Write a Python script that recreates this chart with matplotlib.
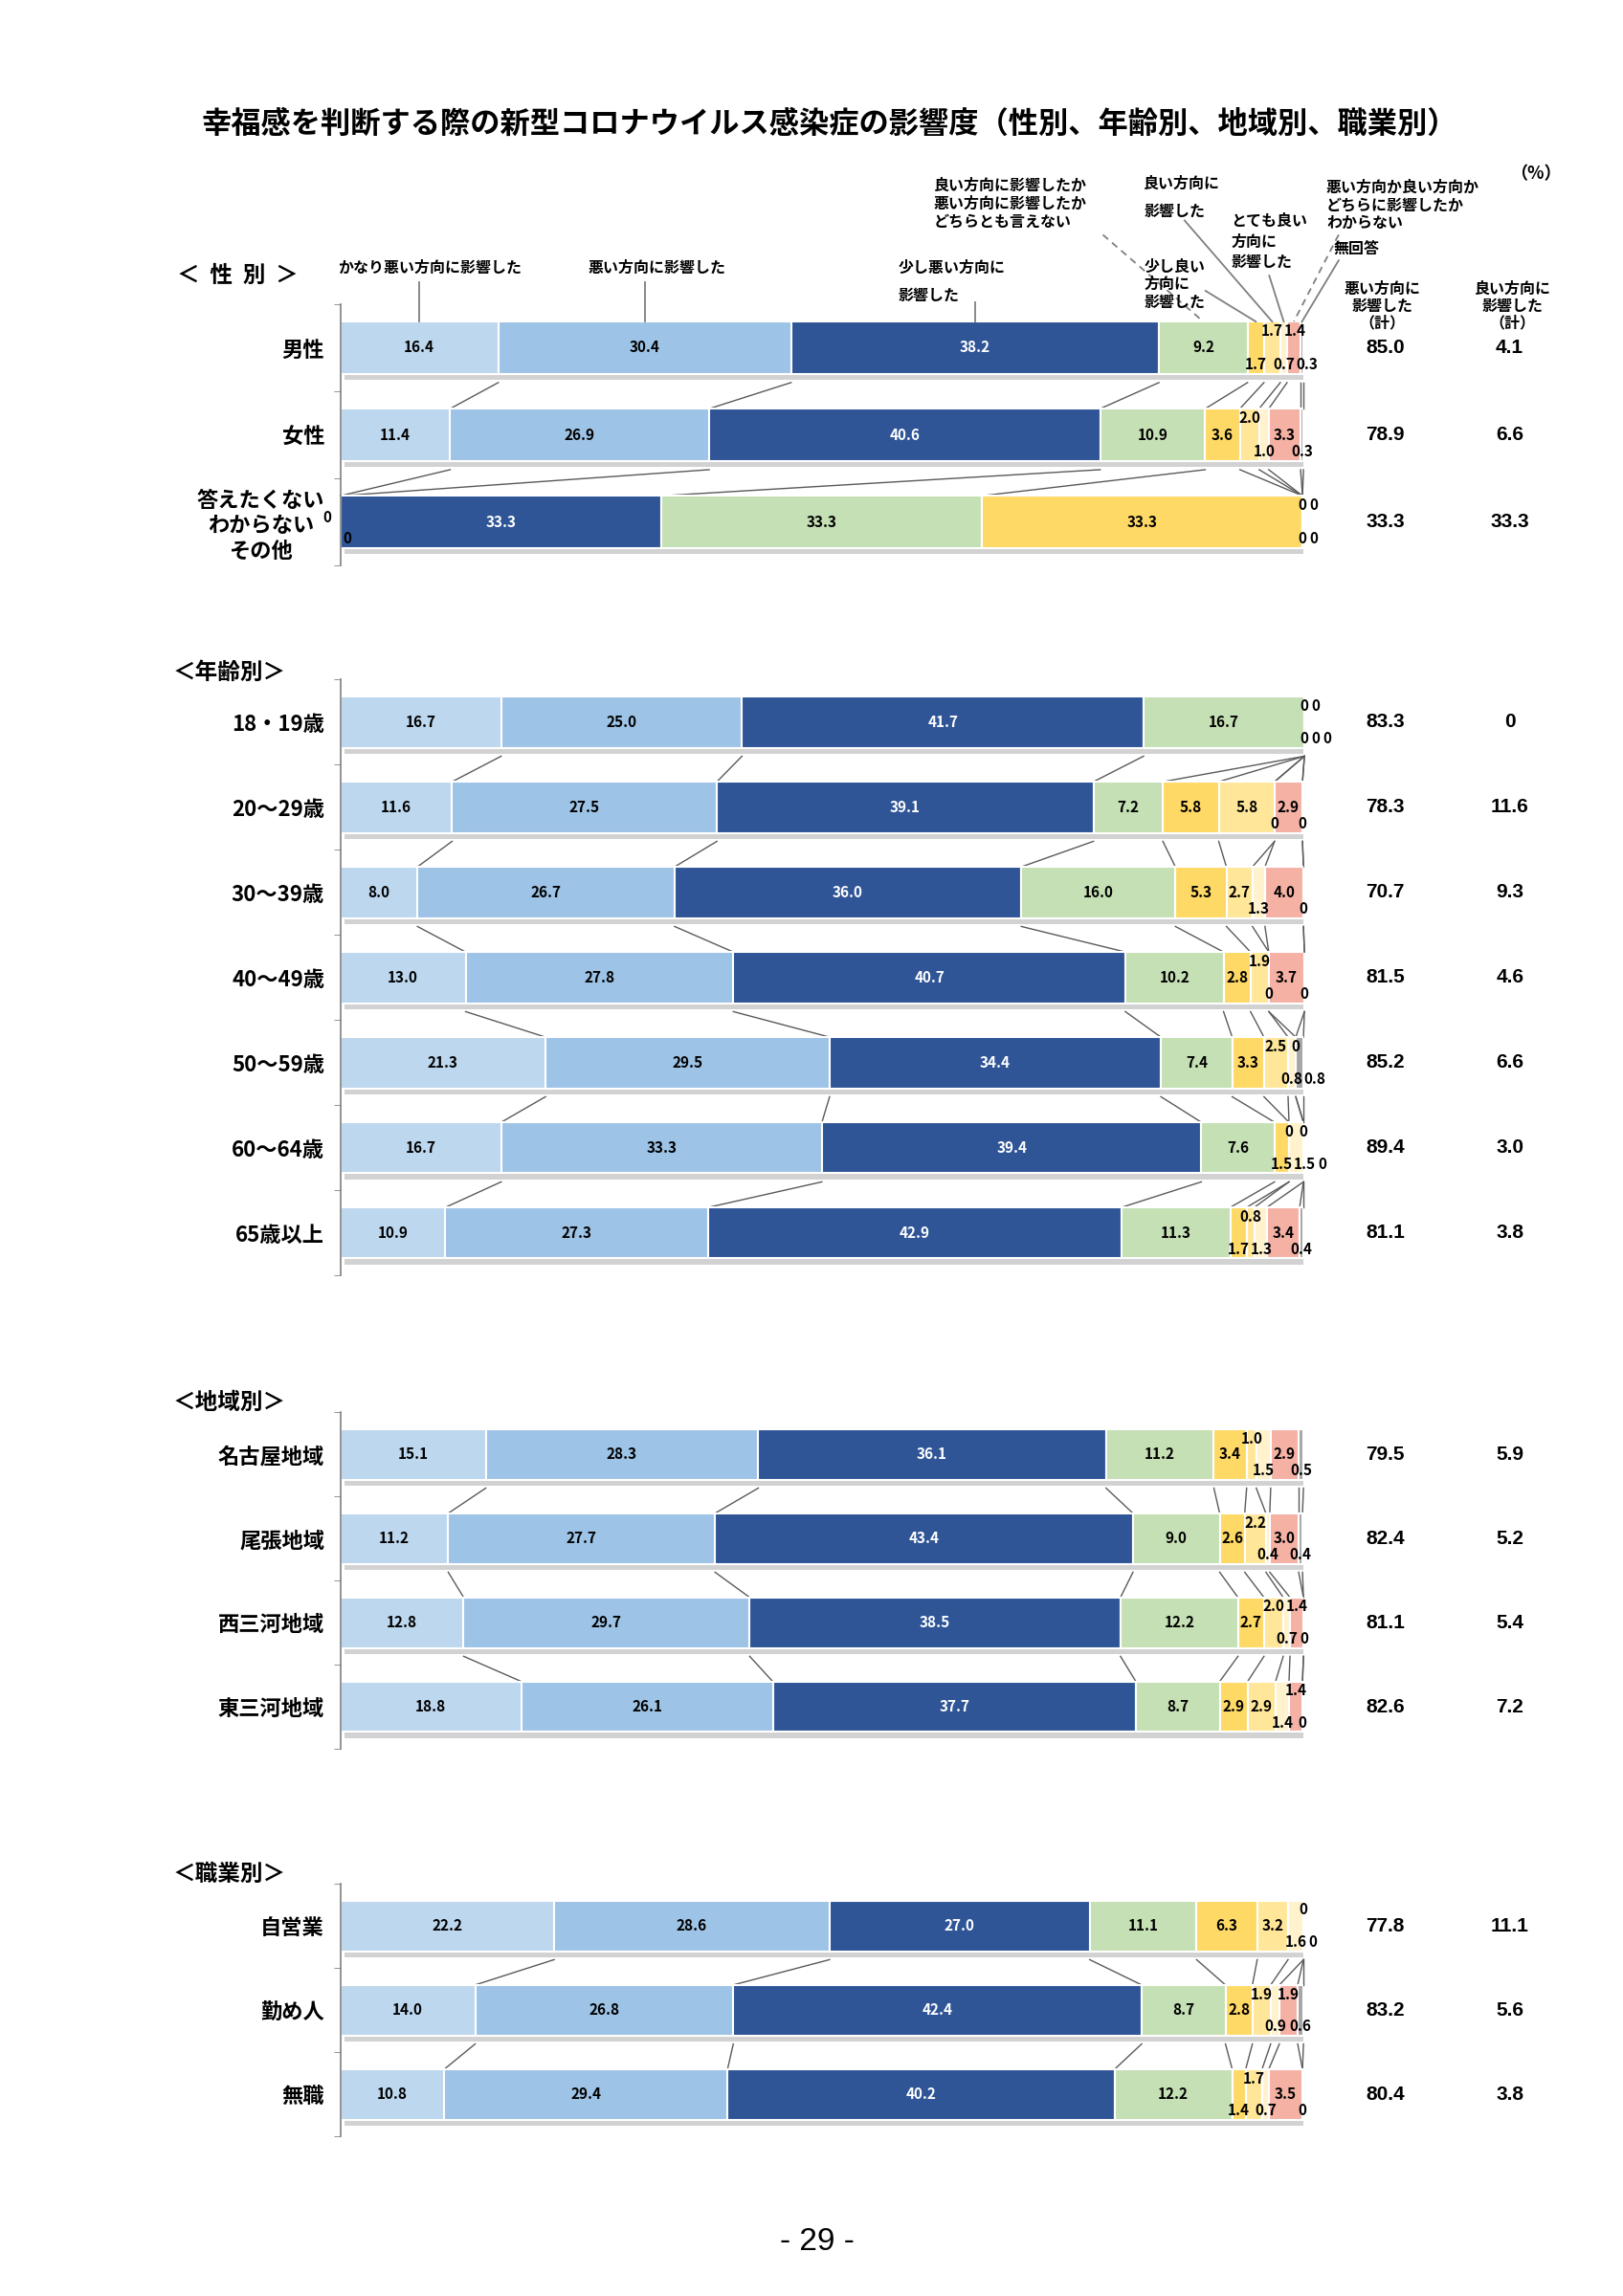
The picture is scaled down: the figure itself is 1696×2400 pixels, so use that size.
import matplotlib
matplotlib.use('Agg')
import matplotlib.pyplot as plt
import numpy as np

CJK = ['Noto Sans CJK JP', 'DejaVu Sans']
NUM = ['Liberation Sans', 'Noto Sans CJK JP', 'DejaVu Sans']
plt.rcParams['font.family'] = CJK

# ---------------- data ----------------
responses = ['かなり悪い方向に影響した', '悪い方向に影響した', '少し悪い方向に影響した',
             '良い方向に影響したか悪い方向に影響したかどちらとも言えない',
             '少し良い方向に影響した', '良い方向に影響した', 'とても良い方向に影響した',
             '悪い方向か良い方向かどちらに影響したかわからない', '無回答']

gender_cats = ['男性', '女性', '答えたくない\nわからない\nその他']
gender_vals = [[16.4, 30.4, 38.2, 9.2, 1.7, 1.7, 0.7, 1.4, 0.3],
               [11.4, 26.9, 40.6, 10.9, 3.6, 2.0, 1.0, 3.3, 0.3],
               [0, 0, 33.3, 33.3, 33.3, 0, 0, 0, 0]]
gender_bad = [85.0, 78.9, 33.3]
gender_good = [4.1, 6.6, 33.3]

age_cats = ['18・19歳', '20～29歳', '30～39歳', '40～49歳', '50～59歳', '60～64歳', '65歳以上']
age_vals = [[16.7, 25.0, 41.7, 16.7, 0, 0, 0, 0, 0],
            [11.6, 27.5, 39.1, 7.2, 5.8, 5.8, 0, 2.9, 0],
            [8.0, 26.7, 36.0, 16.0, 5.3, 2.7, 1.3, 4.0, 0],
            [13.0, 27.8, 40.7, 10.2, 2.8, 1.9, 0, 3.7, 0],
            [21.3, 29.5, 34.4, 7.4, 3.3, 2.5, 0.8, 0, 0.8],
            [16.7, 33.3, 39.4, 7.6, 1.5, 0, 1.5, 0, 0],
            [10.9, 27.3, 42.9, 11.3, 1.7, 0.8, 1.3, 3.4, 0.4]]
age_bad = [83.3, 78.3, 70.7, 81.5, 85.2, 89.4, 81.1]
age_good = [0, 11.6, 9.3, 4.6, 6.6, 3.0, 3.8]

region_cats = ['名古屋地域', '尾張地域', '西三河地域', '東三河地域']
region_vals = [[15.1, 28.3, 36.1, 11.2, 3.4, 1.0, 1.5, 2.9, 0.5],
               [11.2, 27.7, 43.4, 9.0, 2.6, 2.2, 0.4, 3.0, 0.4],
               [12.8, 29.7, 38.5, 12.2, 2.7, 2.0, 0.7, 1.4, 0],
               [18.8, 26.1, 37.7, 8.7, 2.9, 2.9, 1.4, 1.4, 0]]
region_bad = [79.5, 82.4, 81.1, 82.6]
region_good = [5.9, 5.2, 5.4, 7.2]

job_cats = ['自営業', '勤め人', '無職']
job_vals = [[22.2, 28.6, 27.0, 11.1, 6.3, 3.2, 1.6, 0, 0],
            [14.0, 26.8, 42.4, 8.7, 2.8, 1.9, 0.9, 1.9, 0.6],
            [10.8, 29.4, 40.2, 12.2, 1.4, 1.7, 0.7, 3.5, 0]]
job_bad = [77.8, 83.2, 80.4]
job_good = [11.1, 5.6, 3.8]

# ---------------- style ----------------
COLORS = ['#BDD7EE', '#9DC3E6', '#2F5597', '#C5E0B4', '#FFD966',
          '#FFE699', '#FFF2CC', '#F4B1A4', '#A6A6A6']
W, H = 1696, 2400
S = 0.9935
L_PX, R_PX = 358, 1371
BH = 0.6

fig = plt.figure(figsize=(W / 100, H / 100), dpi=100)
fig.patch.set_facecolor('white')


def fx(px):
    return S * px / W


def fy(py):
    return 1 - S * py / H


def fmt(v):
    return '0' if v == 0 else f'{v:.1f}'


def txt_w(t):
    return 0.82 * sum(ch.isdigit() for ch in t) + 0.4 * t.count('.')


def draw_section(title, cats, vals, bad, good, top, bottom, head_y, head_txt_x=182):
    n = len(cats)
    ax = fig.add_axes([fx(L_PX), fy(bottom), fx(R_PX) - fx(L_PX), fy(top) - fy(bottom)])
    ax.set_xlim(0, 100)
    ax.set_ylim(n - 0.5, -0.5)
    arr = np.array(vals, dtype=float)
    cum = np.cumsum(arr, axis=1)
    starts = cum - arr
    ys = np.arange(n)

    # shadow
    ax.barh(ys + 0.07, cum[:, -1], left=0.4, height=BH, color='#D2D2D2', zorder=1)
    for k in range(arr.shape[1]):
        ax.barh(ys, arr[:, k], left=starts[:, k], height=BH, color=COLORS[k],
                edgecolor='white', linewidth=1.5, zorder=2)

    # connectors
    for i in range(n - 1):
        for k in range(arr.shape[1]):
            ax.plot([cum[i, k], cum[i + 1, k]], [i + BH / 2 + 0.1, i + 1 - BH / 2],
                    color='#5A5A5A', lw=1.0, zorder=1.5, clip_on=False)

    # value labels
    for i in range(n):
        lane_end = {-1: -10.0, 1: -10.0}
        for k in range(arr.shape[1]):
            v = arr[i, k]
            c = starts[i, k] + v / 2
            txt = fmt(v)
            col = 'white' if k == 2 else 'black'
            if v >= 2.6:
                ax.text(c, i, txt, ha='center', va='center', fontsize=11, color=col,
                        fontweight='bold', zorder=4)
            elif k == 0:
                ax.text(-0.9, i - 0.05, txt, ha='right', va='center', fontsize=11,
                        fontweight='bold', zorder=4, clip_on=False)
            else:
                lane = 1 if (k % 2 == 0 or k == 1) else -1
                w = txt_w(txt)
                x = max(c, lane_end[lane] + w / 2 + 0.35, w / 2 + 0.3)
                lane_end[lane] = x + w / 2
                ax.text(x, i + lane * 0.19, txt, ha='center', va='center', fontsize=11,
                        color=col, fontweight='bold', zorder=4, clip_on=False)
        ax.text((1457 - L_PX) / (R_PX - L_PX) * 100, i, fmt(bad[i]), ha='center', va='center',
                fontsize=15, family=NUM, fontweight='bold', clip_on=False)
        ax.text((1588 - L_PX) / (R_PX - L_PX) * 100, i, fmt(good[i]), ha='center', va='center',
                fontsize=15, family=NUM, fontweight='bold', clip_on=False)

    # axes styling
    for s in ['top', 'right', 'bottom']:
        ax.spines[s].set_visible(False)
    ax.spines['left'].set_color('#808080')
    ax.spines['left'].set_linewidth(1.2)
    ax.set_xticks([])
    ax.set_yticks(ys)
    ax.set_yticklabels(cats, fontsize=16, fontweight='bold')
    for t in ax.get_yticklabels():
        t.set_multialignment('center')
    ax.set_yticks(np.arange(-0.5, n), minor=True)
    ax.tick_params(axis='y', which='major', length=0, pad=12)
    ax.tick_params(axis='y', which='minor', length=5, color='#808080', direction='out')
    ax.set_facecolor('none')

    fig.text(fx(head_txt_x), fy(head_y), title, ha='left', va='center', fontsize=17,
             fontweight='bold')
    return ax, arr, starts


fig.text(fx(872), fy(131),
         '幸福感を判断する際の新型コロナウイルス感染症の影響度（性別、年齢別、地域別、職業別）',
         ha='center', va='center', fontsize=22.5, fontweight='bold')

axg, garr, gstarts = draw_section('＜  性  別  ＞', gender_cats, gender_vals, gender_bad,
                                  gender_good, 320, 595, 290, 186)
draw_section('＜年齢別＞', age_cats, age_vals, age_bad, age_good, 715, 1342, 708)
draw_section('＜地域別＞', region_cats, region_vals, region_bad, region_good, 1486, 1840, 1476)
draw_section('＜職業別＞', job_cats, job_vals, job_bad, job_good, 1982, 2248, 1972)


# ---------------- legend-style annotations on the gender section ----------------
def gx(px):
    return (px - L_PX) / (R_PX - L_PX) * 100


def gy(py):
    return -0.5 + (py - 320) / ((595 - 320) / 3)


def seg_c(k):
    return gstarts[0, k] + garr[0, k] / 2


LC = '#7F7F7F'
afs = 11.5
top_bar = -BH / 2

ann = [
    # (text, text_x, text_y, ha, linespacing, line_start(x,y), segment, dashed)
    (responses[0], gx(452), gy(282), 'center', 1.2, (seg_c(0), gy(297)), 0, False),
    (responses[1], gx(691), gy(282), 'center', 1.2, (seg_c(1), gy(297)), 1, False),
    ('少し悪い方向に\n影響した', gx(945), gy(296), 'left', 2.0, (seg_c(2), gy(318)), 2, False),
    ('良い方向に影響したか\n悪い方向に影響したか\nどちらとも言えない', gx(982), gy(214), 'left', 1.2,
     (gx(1160), gy(247)), 3, True),
    ('良い方向に\n影響した', gx(1203), gy(208), 'left', 2.0, (gx(1246), gy(232)), 5, False),
    ('とても良い\n方向に\n影響した', gx(1295), gy(254), 'left', 1.45, (gx(1335), gy(290)), 6, False),
    ('悪い方向か良い方向か\nどちらに影響したか\nわからない', gx(1395), gy(216), 'left', 1.2,
     (gx(1408), gy(247)), 7, True),
    ('無回答', gx(1403), gy(262), 'left', 1.2, (gx(1408), gy(274)), 8, False),
    ('少し良い\n方向に\n影響した', gx(1203), gy(299), 'left', 1.2, (gx(1268), gy(306)), 4, False),
]
for txt, tx, ty, ha, ls, (sx, sy), k, dashed in ann:
    axg.text(tx, ty, txt, ha=ha, va='center', fontsize=afs, fontweight='bold',
             linespacing=ls, clip_on=False)
    axg.plot([sx, seg_c(k)], [sy, top_bar], color=LC, lw=1.3,
             ls=(0, (4, 3)) if dashed else '-', clip_on=False, zorder=3)

axg.text(gx(1454), gy(322), '悪い方向に\n影響した\n（計）', ha='center', va='center',
         fontsize=11.5, fontweight='bold', linespacing=1.15, clip_on=False)
axg.text(gx(1591), gy(322), '良い方向に\n影響した\n（計）', ha='center', va='center',
         fontsize=11.5, fontweight='bold', linespacing=1.15, clip_on=False)
axg.text(gx(1615), gy(183), '（%）', ha='center', va='center', fontsize=13,
         fontweight='bold', clip_on=False)

fig.text(fx(860), fy(2359), '- 29 -', ha='center', va='center', fontsize=24, family=NUM)

fig.savefig('out.png', dpi=100, facecolor='white')
